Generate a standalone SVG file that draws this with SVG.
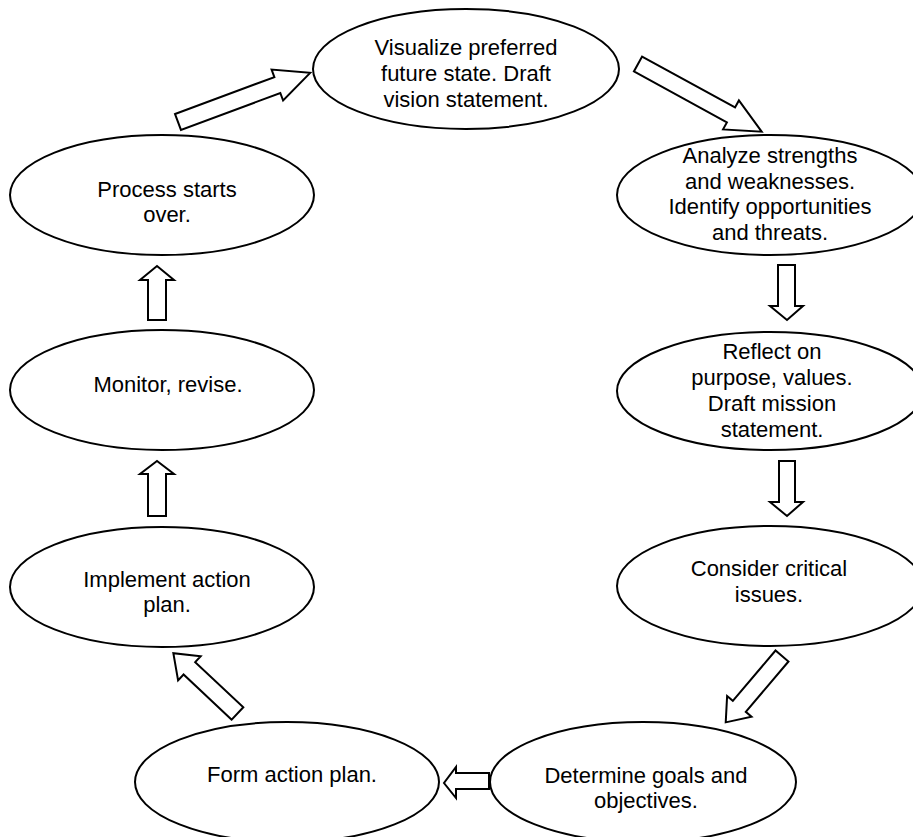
<svg xmlns="http://www.w3.org/2000/svg" width="913" height="837" viewBox="0 0 913 837">
<style>
.n ellipse{fill:#fff;stroke:#000;stroke-width:2}
.n text{font-family:"Liberation Sans",Arial,sans-serif;font-size:22px;fill:#000;text-anchor:middle}
.c polygon{fill:#fff;stroke:#000;stroke-width:2;stroke-linejoin:miter}
</style>
<rect width="913" height="837" fill="#fff"/>
<g id="connectors" class="c">
<polygon transform="translate(178,122) rotate(-20.4)" points="0,-8.5 106,-8.5 106,-16.5 141,0 106,16.5 106,8.5 0,8.5"/>
<polygon transform="translate(638,64) rotate(28.7)" points="0,-8.5 106,-8.5 106,-16.5 141,0 106,16.5 106,8.5 0,8.5"/>
<polygon points="778,265 795,265 795,306 803,306 787,320 770,306 778,306"/>
<polygon points="779,461 795,461 795,502 803,502 787,516 770,502 779,502"/>
<polygon transform="translate(782,656) rotate(130.3)" points="0,-8.5 66,-8.5 66,-16 87,0 66,16 66,8.5 0,8.5"/>
<polygon points="489,773 456,773 456,767 444,783 456,798 456,789 489,789"/>
<polygon transform="translate(237.5,713.5) rotate(-136.8)" points="0,-8.5 66,-8.5 66,-16.5 88,0 66,16.5 66,8.5 0,8.5"/>
<polygon points="148,516 166,516 166,474 174,474 157,461 140,474 148,474"/>
<polygon points="148,320 166,320 166,280 174,280 157,266 140,280 148,280"/>
</g>
<g id="visualize" class="n">
<ellipse cx="466" cy="69" rx="153" ry="60"/>
<text x="466" y="55">Visualize preferred</text>
<text x="466" y="81">future state. Draft</text>
<text x="466" y="107">vision statement.</text>
</g>
<g id="analyze" class="n">
<ellipse cx="770" cy="195" rx="153" ry="60"/>
<text x="770" y="163">Analyze strengths</text>
<text x="770" y="189">and weaknesses.</text>
<text x="770" y="214">Identify opportunities</text>
<text x="770" y="240">and threats.</text>
</g>
<g id="reflect" class="n">
<ellipse cx="770" cy="391" rx="153" ry="59"/>
<text x="772" y="359">Reflect on</text>
<text x="772" y="385">purpose, values.</text>
<text x="772" y="411">Draft mission</text>
<text x="772" y="437">statement.</text>
</g>
<g id="consider" class="n">
<ellipse cx="770" cy="586" rx="153" ry="60"/>
<text x="769" y="576">Consider critical</text>
<text x="769" y="602">issues.</text>
</g>
<g id="determine" class="n">
<ellipse cx="643" cy="782" rx="153" ry="60"/>
<text x="646" y="783">Determine goals and</text>
<text x="646" y="808">objectives.</text>
</g>
<g id="form" class="n">
<ellipse cx="287" cy="782" rx="152" ry="60"/>
<text x="292" y="782">Form action plan.</text>
</g>
<g id="implement" class="n">
<ellipse cx="162" cy="587" rx="152" ry="60"/>
<text x="167" y="587">Implement action</text>
<text x="167" y="612">plan.</text>
</g>
<g id="monitor" class="n">
<ellipse cx="162" cy="390" rx="152" ry="60"/>
<text x="168" y="392">Monitor, revise.</text>
</g>
<g id="process" class="n">
<ellipse cx="162" cy="195" rx="152" ry="60"/>
<text x="167" y="197">Process starts</text>
<text x="167" y="222">over.</text>
</g>
</svg>
